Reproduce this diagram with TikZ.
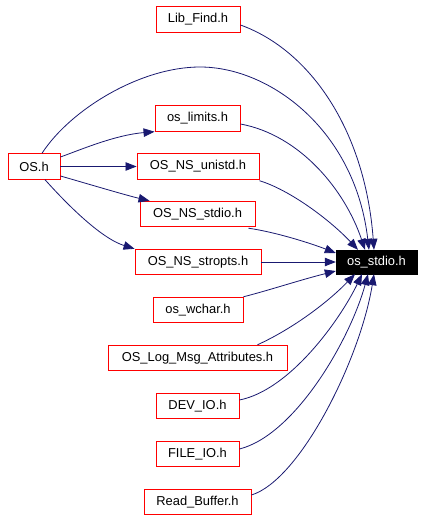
\documentclass[tikz,border=0pt]{standalone}
\usepackage{fontspec}
\setmainfont{Liberation Sans}
\usetikzlibrary{arrows.meta,calc}
\definecolor{edgeblue}{HTML}{191970}
\tikzset{
  filebox/.style={draw=red, line width=0.9bp, fill=white, inner sep=0pt, minimum height=25.5bp, font=\fontsize{12.9bp}{15bp}\selectfont, text=black},
  mainbox/.style={draw=black, fill=black, inner sep=0pt, minimum height=24bp, font=\fontsize{12.9bp}{15bp}\selectfont, text=white},
  dep/.style={draw=edgeblue, line width=0.8bp, -{Triangle[length=11bp,width=8.5bp]}, fill=none},
}
\begin{document}
\begin{tikzpicture}[x=1bp,y=-1bp]
\useasboundingbox (0,0) rectangle (424,520);
\node[filebox, minimum width=84bp]  (libfind)  at (198,19.5) {Lib\_Find.h};
\node[filebox, minimum width=85bp]  (oslimits) at (197.5,118.5) {os\_limits.h};
\node[filebox, minimum width=52bp]  (os)       at (34,166.5) {OS.h};
\node[filebox, minimum width=122bp] (unistd)   at (198,166.5) {OS\_NS\_unistd.h};
\node[filebox, minimum width=115bp] (nsstdio)  at (197.5,214) {OS\_NS\_stdio.h};
\node[filebox, minimum width=126bp] (stropts)  at (198,262) {OS\_NS\_stropts.h};
\node[filebox, minimum width=90bp]  (wchar)    at (198,310) {os\_wchar.h};
\node[filebox, minimum width=179bp] (oslog)    at (197.5,358) {OS\_Log\_Msg\_Attributes.h};
\node[filebox, minimum width=83bp]  (devio)    at (197.5,406) {DEV\_IO.h};
\node[filebox, minimum width=83bp]  (fileio)   at (197.5,454) {FILE\_IO.h};
\node[filebox, minimum width=107bp] (readbuf)  at (197.5,502) {Read\_Buffer.h};
\node[mainbox, minimum width=81bp]  (osstdio)  at (376.5,262) {os\_stdio.h};

% edges into os_stdio from above
\draw[dep] ($(libfind.east)+(0,5.5)$) .. controls (310,50) and (365,130) .. ($(osstdio.north)+(-2.5,0)$);
\draw[dep] ($(os.north)+(8,0)$) .. controls (70,110) and (140,67) .. (200,67) .. controls (270,67) and (355,130) .. ($(osstdio.north)+(-7.5,0)$);
\draw[dep] ($(oslimits.east)+(0,5.5)$) .. controls (300,135) and (345,190) .. ($(osstdio.north)+(-11.5,0)$);
\draw[dep] ($(unistd.south east)+(0,1)$) .. controls (290,190) and (330,220) .. ($(osstdio.north)+(-18.5,0)$);
% from OS.h
\draw[dep] ($(os.east)+(0,-9.5)$) .. controls (80,150) and (115,135) .. (oslimits.south west);
\draw[dep] (os.east) -- (unistd.west);
\draw[dep] ($(os.east)+(0,9.5)$) .. controls (85,183) and (125,195) .. ($(nsstdio.north west)+(10,0)$);
\draw[dep] ($(os.south)+(11,0)$) .. controls (65,202) and (100,238) .. (stropts.north west);
% left side
\draw[dep] ($(nsstdio.south east)+(-7,1)$) .. controls (275,232) and (310,243) .. ($(osstdio.west)+(0,-9)$);
\draw[dep] (stropts.east) -- (osstdio.west);
\draw[dep] (wchar.north east) .. controls (270,290) and (300,280) .. ($(osstdio.west)+(0,9)$);
% from below
\draw[dep] ($(oslog.north east)+(-30,0)$) .. controls (290,330) and (325,305) .. ($(osstdio.south)+(-21.5,0)$);
\draw[dep] ($(devio.east)+(0,-6)$) .. controls (290,390) and (340,320) .. ($(osstdio.south)+(-14.5,0)$);
\draw[dep] ($(fileio.east)+(0,-5)$) .. controls (295,435) and (350,340) .. ($(osstdio.south)+(-8.5,0)$);
\draw[dep] ($(readbuf.east)+(0,-7)$) .. controls (300,480) and (360,360) .. ($(osstdio.south)+(-2.5,0)$);
\end{tikzpicture}
\end{document}
